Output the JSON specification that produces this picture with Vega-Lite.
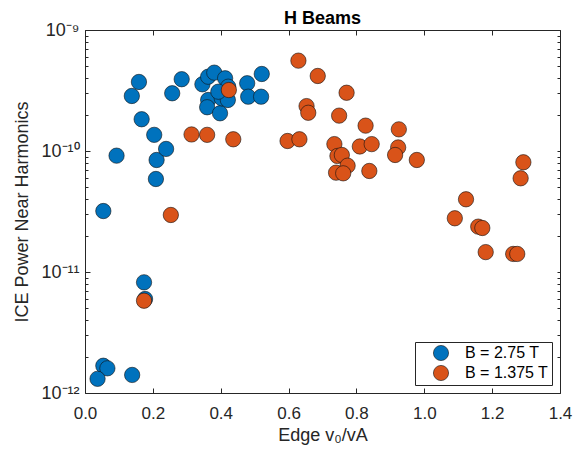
{
  "$schema": "https://vega.github.io/schema/vega-lite/v6.json",
  "width": 475,
  "height": 363,
  "autosize": "none",
  "padding": {"left": 85, "top": 30, "right": 21, "bottom": 61},
  "background": "white",
  "title": {"text": "H Beams", "fontSize": 18, "font": "Liberation Sans", "fontWeight": "bold", "color": "#000000", "offset": -7},
  "config": {
    "view": {"stroke": "#262626", "strokeWidth": 1},
    "font": "Liberation Sans",
    "axis": {"grid": false, "domainColor": "#262626", "tickColor": "#262626", "labelColor": "#262626", "titleColor": "#262626", "labelFont": "Liberation Sans", "titleFont": "Liberation Sans", "labelFontSize": 17, "titleFontSize": 18, "titleFontWeight": "normal"}
  },
  "data": {"values": [
    {"x": 0.054, "y": 3.19e-11, "B": "B = 2.75 T"},
    {"x": 0.093, "y": 9.15e-11, "B": "B = 2.75 T"},
    {"x": 0.138, "y": 2.85e-10, "B": "B = 2.75 T"},
    {"x": 0.159, "y": 3.72e-10, "B": "B = 2.75 T"},
    {"x": 0.167, "y": 1.83e-10, "B": "B = 2.75 T"},
    {"x": 0.204, "y": 1.36e-10, "B": "B = 2.75 T"},
    {"x": 0.211, "y": 8.43e-11, "B": "B = 2.75 T"},
    {"x": 0.209, "y": 5.87e-11, "B": "B = 2.75 T"},
    {"x": 0.239, "y": 1.04e-10, "B": "B = 2.75 T"},
    {"x": 0.257, "y": 3.0e-10, "B": "B = 2.75 T"},
    {"x": 0.285, "y": 3.92e-10, "B": "B = 2.75 T"},
    {"x": 0.346, "y": 3.56e-10, "B": "B = 2.75 T"},
    {"x": 0.363, "y": 4.11e-10, "B": "B = 2.75 T"},
    {"x": 0.381, "y": 4.44e-10, "B": "B = 2.75 T"},
    {"x": 0.413, "y": 3.99e-10, "B": "B = 2.75 T"},
    {"x": 0.363, "y": 2.64e-10, "B": "B = 2.75 T"},
    {"x": 0.36, "y": 2.3e-10, "B": "B = 2.75 T"},
    {"x": 0.398, "y": 2.05e-10, "B": "B = 2.75 T"},
    {"x": 0.403, "y": 2.73e-10, "B": "B = 2.75 T"},
    {"x": 0.421, "y": 2.64e-10, "B": "B = 2.75 T"},
    {"x": 0.422, "y": 3.4e-10, "B": "B = 2.75 T"},
    {"x": 0.393, "y": 3.09e-10, "B": "B = 2.75 T"},
    {"x": 0.478, "y": 3.63e-10, "B": "B = 2.75 T"},
    {"x": 0.481, "y": 2.81e-10, "B": "B = 2.75 T"},
    {"x": 0.521, "y": 4.33e-10, "B": "B = 2.75 T"},
    {"x": 0.519, "y": 2.81e-10, "B": "B = 2.75 T"},
    {"x": 0.174, "y": 8.22e-12, "B": "B = 2.75 T"},
    {"x": 0.177, "y": 5.98e-12, "B": "B = 2.75 T"},
    {"x": 0.054, "y": 1.68e-12, "B": "B = 2.75 T"},
    {"x": 0.066, "y": 1.6e-12, "B": "B = 2.75 T"},
    {"x": 0.037, "y": 1.31e-12, "B": "B = 2.75 T"},
    {"x": 0.139, "y": 1.41e-12, "B": "B = 2.75 T"},
    {"x": 0.253, "y": 2.96e-11, "B": "B = 1.375 T"},
    {"x": 0.314, "y": 1.37e-10, "B": "B = 1.375 T"},
    {"x": 0.36, "y": 1.36e-10, "B": "B = 1.375 T"},
    {"x": 0.437, "y": 1.25e-10, "B": "B = 1.375 T"},
    {"x": 0.424, "y": 3.19e-10, "B": "B = 1.375 T"},
    {"x": 0.597, "y": 1.21e-10, "B": "B = 1.375 T"},
    {"x": 0.632, "y": 1.25e-10, "B": "B = 1.375 T"},
    {"x": 0.629, "y": 5.58e-10, "B": "B = 1.375 T"},
    {"x": 0.686, "y": 4.17e-10, "B": "B = 1.375 T"},
    {"x": 0.771, "y": 3.03e-10, "B": "B = 1.375 T"},
    {"x": 0.653, "y": 2.35e-10, "B": "B = 1.375 T"},
    {"x": 0.658, "y": 2.07e-10, "B": "B = 1.375 T"},
    {"x": 0.749, "y": 1.96e-10, "B": "B = 1.375 T"},
    {"x": 0.735, "y": 1.14e-10, "B": "B = 1.375 T"},
    {"x": 0.744, "y": 9.1e-11, "B": "B = 1.375 T"},
    {"x": 0.757, "y": 9.27e-11, "B": "B = 1.375 T"},
    {"x": 0.774, "y": 7.56e-11, "B": "B = 1.375 T"},
    {"x": 0.74, "y": 6.62e-11, "B": "B = 1.375 T"},
    {"x": 0.761, "y": 6.54e-11, "B": "B = 1.375 T"},
    {"x": 0.827, "y": 1.62e-10, "B": "B = 1.375 T"},
    {"x": 0.81, "y": 1.09e-10, "B": "B = 1.375 T"},
    {"x": 0.845, "y": 1.14e-10, "B": "B = 1.375 T"},
    {"x": 0.838, "y": 6.84e-11, "B": "B = 1.375 T"},
    {"x": 0.925, "y": 1.51e-10, "B": "B = 1.375 T"},
    {"x": 0.923, "y": 1.07e-10, "B": "B = 1.375 T"},
    {"x": 0.914, "y": 9.27e-11, "B": "B = 1.375 T"},
    {"x": 0.978, "y": 8.43e-11, "B": "B = 1.375 T"},
    {"x": 1.292, "y": 8.07e-11, "B": "B = 1.375 T"},
    {"x": 1.284, "y": 5.95e-11, "B": "B = 1.375 T"},
    {"x": 1.123, "y": 3.99e-11, "B": "B = 1.375 T"},
    {"x": 1.09, "y": 2.78e-11, "B": "B = 1.375 T"},
    {"x": 1.159, "y": 2.37e-11, "B": "B = 1.375 T"},
    {"x": 1.171, "y": 2.31e-11, "B": "B = 1.375 T"},
    {"x": 1.181, "y": 1.46e-11, "B": "B = 1.375 T"},
    {"x": 1.262, "y": 1.41e-11, "B": "B = 1.375 T"},
    {"x": 1.274, "y": 1.41e-11, "B": "B = 1.375 T"},
    {"x": 0.174, "y": 5.79e-12, "B": "B = 1.375 T"}
  ]},
  "layer": [
    {
      "mark": {"type": "point", "opacity": 0},
      "encoding": {
        "x": {"field": "x", "type": "quantitative", "scale": {"domain": [0, 1.4], "nice": false, "zero": false},
              "axis": {"orient": "top", "values": [0, 0.2, 0.4, 0.6, 0.8, 1, 1.2, 1.4], "labels": false, "title": null, "tickSize": -5, "domain": false}},
        "y": {"field": "y", "type": "quantitative", "scale": {"type": "log", "domain": [1e-12, 1e-9], "nice": false},
              "axis": {"orient": "right", "values": [1e-12, 2e-12, 3e-12, 4e-12, 5e-12, 6e-12, 7e-12, 8e-12, 9e-12, 1e-11, 2e-11, 3e-11, 4e-11, 5e-11, 6e-11, 7e-11, 8e-11, 9e-11, 1e-10, 2e-10, 3e-10, 4e-10, 5e-10, 6e-10, 7e-10, 8e-10, 9e-10, 1e-9], "labels": false, "title": null, "tickSize": -3, "domain": false}}
      }
    },
    {
      "mark": {"type": "point", "opacity": 0},
      "encoding": {
        "x": {"field": "x", "type": "quantitative", "scale": {"domain": [0, 1.4], "nice": false, "zero": false}, "axis": null},
        "y": {"field": "y", "type": "quantitative", "scale": {"type": "log", "domain": [1e-12, 1e-9], "nice": false},
              "axis": {"orient": "left", "values": [2e-12, 3e-12, 4e-12, 5e-12, 6e-12, 7e-12, 8e-12, 9e-12, 2e-11, 3e-11, 4e-11, 5e-11, 6e-11, 7e-11, 8e-11, 9e-11, 2e-10, 3e-10, 4e-10, 5e-10, 6e-10, 7e-10, 8e-10, 9e-10], "labels": false, "title": null, "tickSize": -3, "domain": false}}
      }
    },
    {
      "mark": {"type": "point", "filled": true, "opacity": 1, "size": 235, "stroke": "#111111", "strokeWidth": 0.6},
      "encoding": {
        "x": {"field": "x", "type": "quantitative", "scale": {"domain": [0, 1.4], "nice": false, "zero": false},
              "axis": {"orient": "bottom", "values": [0, 0.2, 0.4, 0.6, 0.8, 1, 1.2, 1.4], "tickSize": -5, "labelPadding": 17, "labelFontSize": 17, "titleFontSize": 18, "title": "Edge v₀/vA", "titlePadding": 5, "domain": false, "labelFlush": false}},
        "y": {"field": "y", "type": "quantitative", "scale": {"type": "log", "domain": [1e-12, 1e-9], "nice": false},
              "axis": {"orient": "left", "values": [1e-12, 1e-11, 1e-10, 1e-9], "tickSize": -5, "labelPadding": 11, "labelFontSize": 18, "titleFontSize": 18, "title": "ICE Power Near Harmonics", "titlePadding": 9, "domain": false, "labelFlush": false,
                       "labelExpr": "datum.value < 5e-12 ? '10⁻¹²' : datum.value < 5e-11 ? '10⁻¹¹' : datum.value < 5e-10 ? '10⁻¹⁰' : '10⁻⁹'"}},
        "color": {"field": "B", "type": "nominal",
                  "scale": {"domain": ["B = 2.75 T", "B = 1.375 T"], "range": ["#0072BD", "#D95319"]},
                  "legend": {"title": null, "orient": "bottom-right", "offset": 8, "strokeColor": "#262626", "fillColor": "white", "padding": 3, "symbolOffset": 15, "symbolType": "circle", "symbolSize": 230, "symbolStrokeColor": "#111111", "symbolStrokeWidth": 0.6, "labelFontSize": 16, "labelFont": "Liberation Sans", "labelColor": "#000000", "labelOffset": 16, "rowPadding": 2, "symbolOpacity": 1}}
      }
    }
  ],
  "resolve": {"axis": {"x": "independent", "y": "independent"}}
}
